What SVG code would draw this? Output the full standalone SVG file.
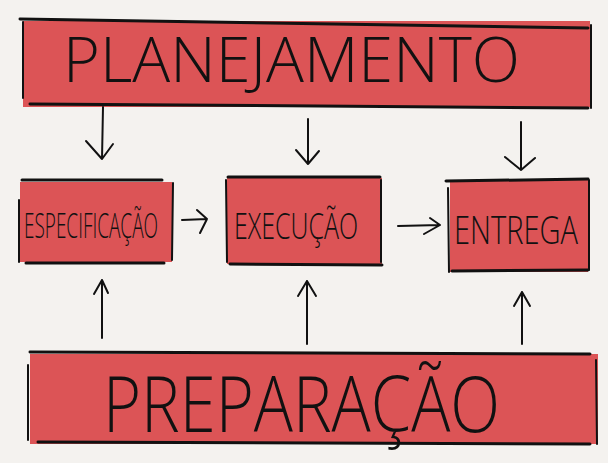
<svg xmlns="http://www.w3.org/2000/svg" width="608" height="463" viewBox="0 0 608 463">
<defs>
<style>
.red{fill:#dc5456;}
.edge{stroke:#111;fill:none;stroke-linecap:round;}
.big{font-family:"Open Sans","Liberation Sans",sans-serif;font-weight:300;fill:#111;}
.small{font-family:"Open Sans","Liberation Sans",sans-serif;font-weight:300;fill:#111;}
.arr{stroke:#111;stroke-width:2;fill:none;stroke-linecap:round;stroke-linejoin:round;}
</style>
</defs>
<rect width="608" height="463" fill="#f4f2ef"/>
<g id="planejamento">
<rect class="red" x="23" y="21" width="567" height="86"/>
<path class="edge" stroke-width="3" d="M20 19 L588 28"/>
<path class="edge" stroke-width="3" d="M30 104 L588 108"/>
<path class="edge" stroke-width="2" d="M23 22 L23 98"/>
<path class="edge" stroke-width="2" d="M591 25 L591 108"/>
<text class="big" x="63" y="82" font-size="62" textLength="457" lengthAdjust="spacingAndGlyphs">PLANEJAMENTO</text>
</g>
<g id="especificacao">
<rect class="red" x="20" y="182" width="152" height="80"/>
<path class="edge" stroke-width="3" d="M22 180 L162 180"/>
<path class="edge" stroke-width="3" d="M26 263 L164 263"/>
<path class="edge" stroke-width="2" d="M19 200 L19 262"/>
<path class="edge" stroke-width="2" d="M173 183 L172 260"/>
<text class="small" x="24" y="238" font-size="34" textLength="134" lengthAdjust="spacingAndGlyphs">ESPECIFICAÇÃO</text>
</g>
<g id="execucao">
<rect class="red" x="227" y="178" width="155" height="86"/>
<path class="edge" stroke-width="3" d="M228 177 L380 177"/>
<path class="edge" stroke-width="3" d="M230 264 L382 265"/>
<path class="edge" stroke-width="2" d="M226 180 L227 262"/>
<path class="edge" stroke-width="2" d="M381 180 L381 262"/>
<text class="small" x="234" y="239" font-size="36" textLength="124" lengthAdjust="spacingAndGlyphs">EXECUÇÃO</text>
</g>
<g id="entrega">
<rect class="red" x="450" y="180" width="138" height="92"/>
<path class="edge" stroke-width="3" d="M446 181 L588 179"/>
<path class="edge" stroke-width="3" d="M452 271 L588 270"/>
<path class="edge" stroke-width="2" d="M448 188 L449 272"/>
<path class="edge" stroke-width="2" d="M589 180 L589 270"/>
<text class="small" x="454" y="244" font-size="38" textLength="124" lengthAdjust="spacingAndGlyphs">ENTREGA</text>
</g>
<g id="preparacao">
<rect class="red" x="30" y="354" width="568" height="90"/>
<path class="edge" stroke-width="3" d="M30 352 L590 354"/>
<path class="edge" stroke-width="3" d="M38 442 L590 444"/>
<path class="edge" stroke-width="2" d="M28 365 L28 440"/>
<path class="edge" stroke-width="2" d="M596 360 L597 444"/>
<text class="big" x="103" y="432" font-size="78" textLength="397" lengthAdjust="spacingAndGlyphs">PREPARAÇÃO</text>
</g>
<g id="connectors">
<path class="arr" d="M103 107 L102 159 M86 141 L102 159 L113 144"/>
<path class="arr" d="M308 119 L308 164 M296 150 L308 164 L319 151"/>
<path class="arr" d="M521 122 L521 170 M505 157 L521 170 L535 158"/>
<path class="arr" d="M182 220 L207 219 M197 210 L207 219 L200 233"/>
<path class="arr" d="M398 226 L440 225 M430 218 L440 225 L424 234"/>
<path class="arr" d="M102 338 L102 280 M94 294 L102 280 L108 293"/>
<path class="arr" d="M307 344 L307 281 M298 296 L307 281 L316 296"/>
<path class="arr" d="M522 344 L522 292 M514 306 L522 292 L530 306"/>
</g>
</svg>
